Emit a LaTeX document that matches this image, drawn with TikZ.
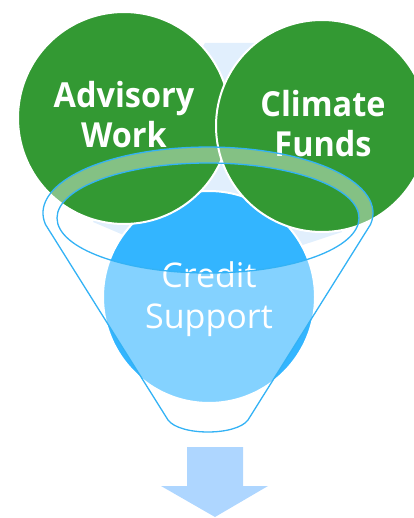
\documentclass[tikz,border=0pt]{standalone}
\usepackage{fontspec}
\setmainfont{Open Sans}
\newfontfamily\narrowsans[FakeStretch=0.94]{Open Sans}
\definecolor{cgreen}{RGB}{51,153,51}
\definecolor{cblue}{RGB}{51,181,255}
\definecolor{cline}{RGB}{51,178,245}
\definecolor{cpale}{RGB}{225,239,253}
\definecolor{carrow}{RGB}{174,214,255}
\tikzset{
  disc/.style={circle, inner sep=0pt, minimum size=212pt, draw=white, line width=2pt},
  greendisc/.style={disc, fill=cgreen},
  bluedisc/.style={disc, fill=cblue},
  boldlabel/.style={text=white, align=center, font=\narrowsans\fontsize{34.5}{40}\selectfont\bfseries},
  thinlabel/.style={text=white, align=center, font=\fontsize{34}{41}\selectfont},
  funnelline/.style={draw=cline, line width=1.3pt},
}
\begin{document}
\begin{tikzpicture}[x=1pt, y=-1pt]
\useasboundingbox (0,0) rectangle (413,518);
% pale background shape
\fill[cpale] (205,43) -- (256,43) -- (342,232) -- (215,274) -- (93,222) -- cycle;
% circles
\node[bluedisc] (credit) at (209,297) {};
\node[greendisc] (advisory) at (124,118) {};
\node[greendisc] (climate) at (322,126) {};
% labels
\node[boldlabel] (advtext) at (124,115) {Advisory\\Work};
\node[boldlabel] (cltext) at (323,123.5) {Climate\\Funds};
\node[thinlabel] (crtext) at (209,299.5) {Credit\\Support};
% funnel
\coordinate (fl) at (45.5,224.5);
\coordinate (fr) at (370.5,224.5);
\coordinate (bl) at (168,420);
\coordinate (br) at (248,420);
\fill[white, fill opacity=0.4, even odd rule]
  (fl) arc[start angle=170, end angle=370, x radius=165, y radius=66]
  -- (br) .. controls (236,436) and (180,436) .. (bl) -- cycle
  (208,218) ellipse[x radius=151, y radius=55];
\draw[funnelline, line join=round]
  (fl) arc[start angle=170, end angle=370, x radius=165, y radius=66]
  -- (br) .. controls (236,436) and (180,436) .. (bl) -- cycle;
\draw[funnelline] (208,218) ellipse[x radius=151, y radius=55];
% arrow
\fill[carrow] (187,447) -- (243,447) -- (243,486) -- (268,486) -- (215,517) -- (161,486) -- (187,486) -- cycle;
\end{tikzpicture}
\end{document}
